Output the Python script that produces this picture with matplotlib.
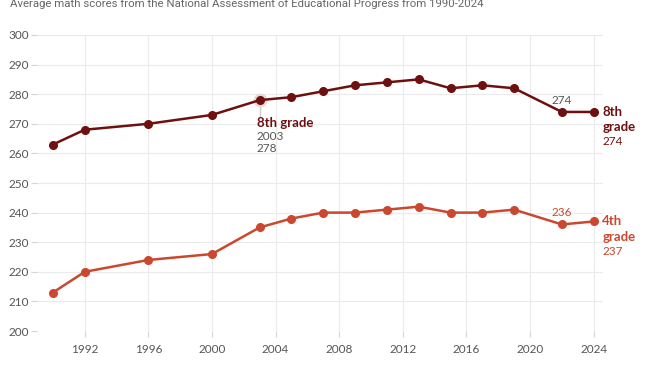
import numpy as np
import matplotlib.pyplot as plt

plt.rcParams['font.family'] = ['Lato', 'DejaVu Sans']

years = [1990, 1992, 1996, 2000, 2003, 2005, 2007, 2009, 2011, 2013, 2015, 2017, 2019, 2022, 2024]
grade8 = [263, 268, 270, 273, 278, 279, 281, 283, 284, 285, 282, 283, 282, 274, 274]
grade4 = [213, 220, 224, 226, 235, 238, 240, 240, 241, 242, 240, 240, 241, 236, 237]
xticks = [1992, 1996, 2000, 2004, 2008, 2012, 2016, 2020, 2024]
yticks = [200, 210, 220, 230, 240, 250, 260, 270, 280, 290, 300]

c8 = "#6e1010"
c4 = "#c9482f"
grey = "#555555"

fig = plt.figure(figsize=(6.5, 3.75), dpi=100)
ax = fig.add_axes([0.057, 0.1173, 0.871, 0.7894])

ax.plot(years, grade8, color=c8, lw=1.8, marker="o", ms=5.5, clip_on=False, zorder=3)
ax.plot(years, grade4, color=c4, lw=1.8, marker="o", ms=5.5, clip_on=False, zorder=3)

# hovered point halo
ax.plot([2003], [278], marker="o", ms=9, color="#ead8d8", zorder=2, clip_on=False)
ax.plot([2003, 2003], [278, 272.5], color="#cccccc", lw=1, zorder=1)
ax.text(2002.8, 270.3, "8th grade", color=c8, fontsize=9.5, fontweight="bold", va="center")
ax.text(2002.8, 265.6, "2003", color=grey, fontsize=8.5, va="center")
ax.text(2002.8, 261.5, "278", color=grey, fontsize=8.5, va="center")

ax.text(2022, 278, "274", color=grey, fontsize=8.5, ha="center", va="center")
ax.text(2022, 240, "236", color=c4, fontsize=8.5, ha="center", va="center")

ax.text(2024.55, 274, "8th", color=c8, fontsize=9.5, fontweight="bold", va="center")
ax.text(2024.55, 268.8, "grade", color=c8, fontsize=9.5, fontweight="bold", va="center")
ax.text(2024.55, 263.9, "274", color=c8, fontsize=8.5, va="center")
ax.text(2024.55, 237, "4th", color=c4, fontsize=9.5, fontweight="bold", va="center")
ax.text(2024.55, 231.9, "grade", color=c4, fontsize=9.5, fontweight="bold", va="center")
ax.text(2024.55, 226.8, "237", color=c4, fontsize=8.5, va="center")

ax.set_xlim(1989, 2024.6)
ax.set_ylim(200, 300)
ax.set_xticks(xticks)
ax.set_yticks(yticks)
ax.grid(True, color="#ebebeb", lw=0.8)
ax.set_axisbelow(True)
for s in ax.spines.values():
    s.set_visible(False)
ax.tick_params(axis="y", length=4, color="#d5d5d5", labelcolor=grey, labelsize=8.5, pad=2)
ax.tick_params(axis="x", length=4, color="#d5d5d5", labelcolor=grey, labelsize=8.5, pad=5)

fig.text(0.015, 0.99, "Average math scores from the National Assessment of Educational Progress from 1990-2024",
         color="#666666", fontsize=8.2, va="center", ha="left", family="Roboto")

fig.savefig("out.png", dpi=100, facecolor="white")
